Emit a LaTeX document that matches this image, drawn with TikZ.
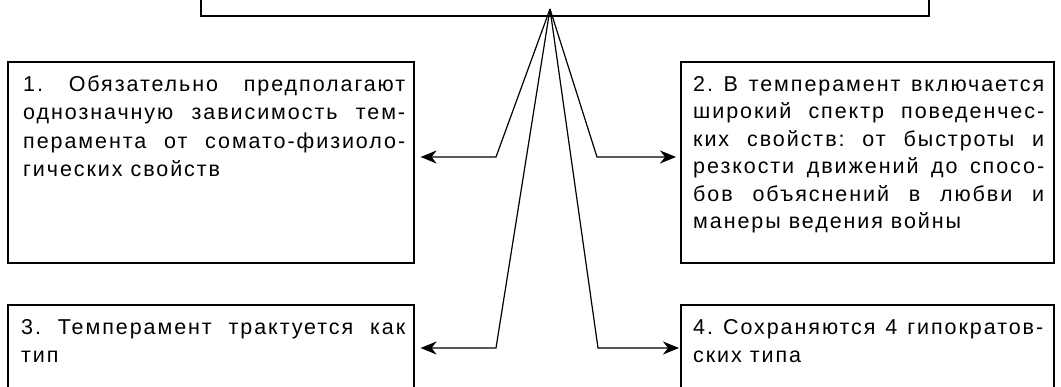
\documentclass[tikz,border=0pt]{standalone}
\usepackage{fontspec}
\setmainfont{Liberation Sans}[LetterSpace=9]
\usetikzlibrary{arrows.meta}
\tolerance=10000
\hyphenpenalty=10000
\hbadness=10000
\frenchspacing
\tikzset{
  box/.style={draw, line width=1.6pt, inner sep=0pt, anchor=north west},
  txt/.style={inner sep=0pt, anchor=base west, align=justify},
  link/.style={line width=1.2pt, -{Stealth[length=16pt,width=13pt,inset=5pt]}}
}
\begin{document}
\begin{tikzpicture}[x=1pt,y=-1pt]
\useasboundingbox (0,0) rectangle (1061,386);
% boxes
\node[box, anchor=south west, minimum width=728pt, minimum height=60pt] (top) at (200,17) {};
\node[box, minimum width=406pt, minimum height=201pt] (b1) at (7,61) {};
\node[box, minimum width=373pt, minimum height=201pt] (b2) at (680,61) {};
\node[box, minimum width=406pt, minimum height=100pt] (b3) at (7,304) {};
\node[box, minimum width=373pt, minimum height=100pt] (b4) at (680,304) {};
% texts
\node[txt, text width=382pt, font=\fontsize{21.5}{28.5}\selectfont] (t1) at (23,91) {1. Обязательно предполагают\linebreak
однозначную зависимость тем-\linebreak
перамента от сомато-физиоло-\linebreak
гических свойств};
\node[txt, text width=351pt, font=\fontsize{21.5}{27.5}\selectfont] (t2) at (693,91) {2. В темперамент включается\linebreak
широкий спектр поведенчес-\linebreak
ких свойств: от быстроты и\linebreak
резкости движений до спосо-\linebreak
бов объяснений в любви и\linebreak
манеры ведения войны};
\node[txt, text width=384pt, font=\fontsize{21.5}{28}\selectfont] (t3) at (21,334) {3. Темперамент трактуется как\linebreak
тип};
\node[txt, text width=350pt, font=\fontsize{21.5}{28}\selectfont] (t4) at (693,334) {4. Сохраняются 4 гипократов-\linebreak
ских типа};
% connectors
\coordinate (apex) at (550,9);
\coordinate (k1) at (496,157);
\coordinate (k2) at (597,157);
\coordinate (k3) at (496,348);
\coordinate (k4) at (598,348);
\draw[link, shorten >=6pt] (apex) -- (k1) -- (k1 -| b1.east);
\draw[link, shorten >=4pt] (apex) -- (k2) -- (k2 -| b2.west);
\draw[link, shorten >=6pt] (apex) -- (k3) -- (k3 -| b3.east);
\draw[link, shorten >=1pt] (apex) -- (k4) -- (k4 -| b4.west);
\end{tikzpicture}
\end{document}
